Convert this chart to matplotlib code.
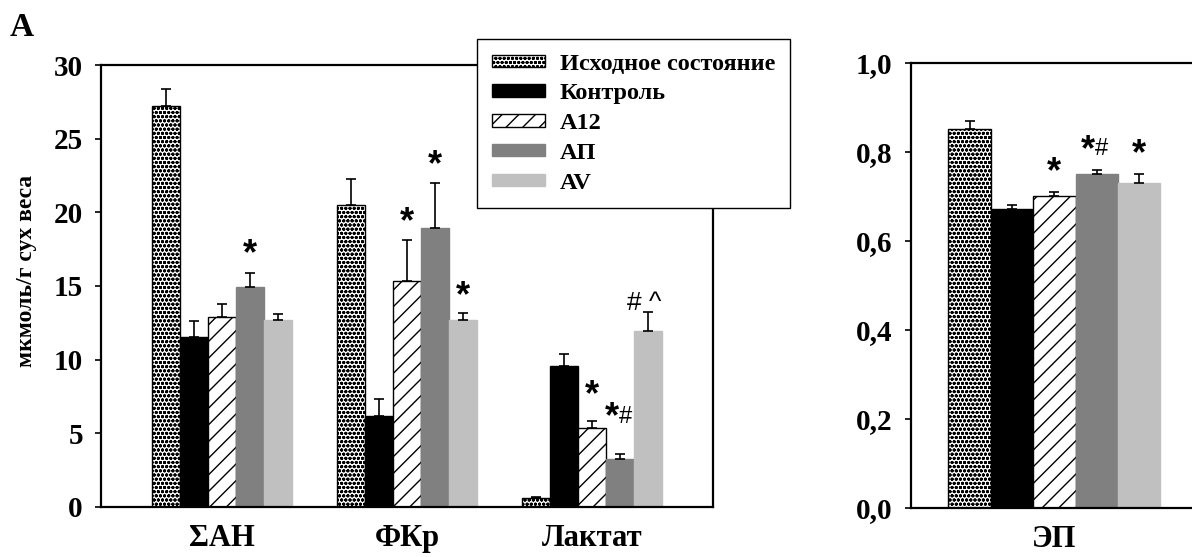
import matplotlib
matplotlib.use("Agg")
import matplotlib.pyplot as plt
import numpy as np

plt.rcParams['font.family'] = ['Liberation Serif', 'DejaVu Serif']
plt.rcParams['font.weight'] = 'bold'
plt.rcParams['hatch.linewidth'] = 1.0

groups = ['Исходное состояние', 'Контроль', 'A12', 'AП', 'AV']
categories = ['ΣАН', 'ФКр', 'Лактат']

# мкмоль/г сух веса: rows = groups, columns = categories
means = [
    [27.2, 20.5, 0.6],
    [11.55, 6.15, 9.55],
    [12.9, 15.35, 5.33],
    [14.92, 18.94, 3.25],
    [12.72, 12.7, 11.95],
]
errs = [
    [1.2, 1.75, 0.08],
    [1.1, 1.15, 0.8],
    [0.9, 2.75, 0.5],
    [0.95, 3.03, 0.33],
    [0.4, 0.45, 1.3],
]
marks = [
    ['', '', ''],
    ['', '', ''],
    ['', '*', '*'],
    ['*', '*', '*#'],
    ['', '*', '#^'],
]

# энергетический потенциал
ep_means = [0.851, 0.671, 0.701, 0.750, 0.731]
ep_errs = [0.019, 0.009, 0.009, 0.010, 0.019]
ep_marks = ['', '', '*', '*#', '*']

colors = ['white', 'black', 'white', '#808080', '#c0c0c0']
edges = ['black', 'black', 'black', '#808080', '#c0c0c0']
hatches = ['oooo', None, '//', None, None]

# подъём значков над усом, в пунктах (по умолчанию 13)
lift = {(2, 2): 18, (3, 2): 26, (4, 2): 6, (4, 1): 12}

width = 0.152

fig = plt.figure(figsize=(11.92, 5.57), dpi=100)
ax1 = fig.add_axes([0.0847, 0.0898, 0.5134, 0.7935])
ax2 = fig.add_axes([0.764, 0.088, 0.241, 0.799])


def draw_mark(ax, x, y, s, up):
    # звёздочка и знаки # ^ над столбцом
    sans = 'Liberation Sans'
    kw = dict(xycoords='data', textcoords='offset points', va='center', fontfamily=sans)
    if s.startswith('*'):
        dx = -6 if len(s) > 1 else 0
        ax.annotate('*', (x, y), xytext=(dx, up), ha='center', fontsize=26, **kw)
        if len(s) > 1:
            ax.annotate(s[1:], (x, y), xytext=(dx + 5, up + 1), ha='left',
                        fontsize=17, fontweight='normal', **kw)
    else:
        ax.annotate(' '.join(s), (x, y), xytext=(-3, up), ha='center',
                    fontsize=19, fontweight='normal', **kw)


x = np.arange(len(categories))
for i, g in enumerate(groups):
    pos = x + (i - 2) * width
    ax1.bar(pos, means[i], width, color=colors[i], edgecolor=edges[i],
            hatch=hatches[i], linewidth=1.0, label=g)
    ax1.errorbar(pos, means[i], yerr=[np.zeros(3), errs[i]], fmt='none',
                 ecolor='black', elinewidth=1.2, capsize=3.5, capthick=1.2)
    for j in range(3):
        if marks[i][j]:
            draw_mark(ax1, pos[j], means[i][j] + errs[i][j], marks[i][j],
                      lift.get((i, j), 13))

for i in range(len(groups)):
    p = (i - 2) * width
    ax2.bar(p, ep_means[i], width, color=colors[i], edgecolor=edges[i],
            hatch=hatches[i], linewidth=1.0)
    ax2.errorbar(p, ep_means[i], yerr=[[0], [ep_errs[i]]], fmt='none',
                 ecolor='black', elinewidth=1.2, capsize=3.5, capthick=1.2)
    if ep_marks[i]:
        draw_mark(ax2, p, ep_means[i] + ep_errs[i], ep_marks[i], 14)

ax1.set_xlim(-0.654, 2.654)
ax1.set_ylim(0, 30)
ax1.set_yticks(range(0, 31, 5))
ax1.set_xticks(x)
ax1.set_xticklabels(categories, fontsize=22)
ax1.set_ylabel('мкмоль/г сух веса', fontsize=17, fontweight='bold')
ax1.yaxis.set_label_coords(-0.104, 0.534)

ax2.set_xlim(-0.515, 0.515)
ax2.set_ylim(0, 1.0)
ep_ticks = np.arange(0, 1.01, 0.2)
ax2.set_yticks(ep_ticks)
ax2.set_yticklabels([f'{v:.1f}'.replace('.', ',') for v in ep_ticks])
ax2.set_xticks([0])
ax2.set_xticklabels(['ЭП'], fontsize=22)

for ax in (ax1, ax2):
    ax.tick_params(axis='y', labelsize=21, length=4, width=1.2, direction='out', pad=9)
    ax.tick_params(axis='x', length=0, pad=12)
    for sp in ax.spines.values():
        sp.set_linewidth(1.6)

leg = ax1.legend(loc='upper left', bbox_to_anchor=(0.4002, 0.930),
                 bbox_transform=fig.transFigure, borderaxespad=0, fontsize=17.5,
                 frameon=True, fancybox=False, edgecolor='black', framealpha=1,
                 handlelength=2.2, handleheight=0.42, labelspacing=0.36,
                 borderpad=0.6, handletextpad=0.6)
leg.get_frame().set_linewidth(1.0)

fig.text(0.008, 0.978, 'A', fontsize=24, fontweight='bold', va='top')

fig.savefig('out.png', dpi=100)
